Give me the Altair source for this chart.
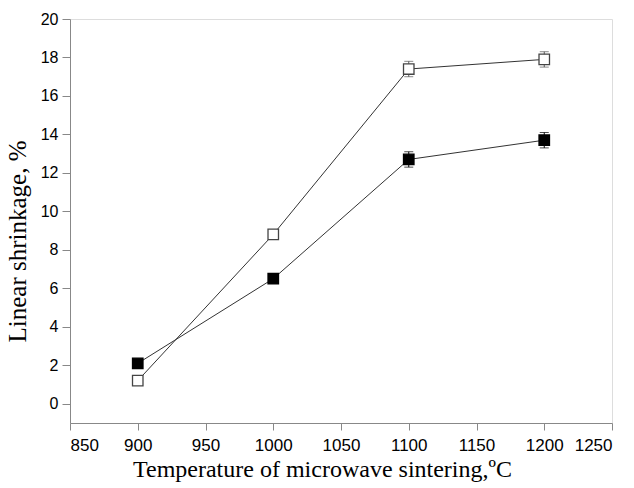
import altair as alt
import pandas as pd

temps = [900, 1000, 1100, 1200]
open_vals = [1.2, 8.8, 17.4, 17.9]
open_err = [0.2, 0.2, 0.4, 0.4]
filled_vals = [2.1, 6.5, 12.7, 13.7]
filled_err = [0.2, 0.2, 0.4, 0.4]

x_ticks = list(range(850, 1251, 25))
y_ticks = list(range(0, 21, 1))

rows = []
for t, v, e in zip(temps, open_vals, open_err):
    rows.append({"T": t, "v": v, "lo": v - e, "hi": v + e, "s": "open"})
for t, v, e in zip(temps, filled_vals, filled_err):
    rows.append({"T": t, "v": v, "lo": v - e, "hi": v + e, "s": "filled"})
df = pd.DataFrame(rows)

xs = alt.Scale(domain=[850, 1250], nice=False, zero=False)
ys = alt.Scale(domain=[-1, 20], nice=False, zero=False)

x_axis = alt.Axis(
    title="Temperature of microwave sintering,ºC",
    values=x_ticks,
    labelExpr="datum.value % 50 === 0 ? datum.label : ''",
    tickSize={"condition": {"test": "datum.value % 50 === 0", "value": 7}, "value": 4},
    format="d",
    grid=False,
    labelFontSize=17,
    labelPadding=7,
    titleFontSize=24,
    titlePadding=4,
    titleFont="Liberation Serif",
    titleFontWeight="normal",
    titleX=252,
)
y_axis = alt.Axis(
    title="Linear shrinkage, %",
    values=y_ticks,
    labelExpr="datum.value % 2 === 0 ? datum.label : ''",
    tickSize={"condition": {"test": "datum.value % 2 === 0", "value": 8}, "value": 4},
    grid=False,
    labelFontSize=16,
    labelPadding=4,
    titleFontSize=25,
    titlePadding=10,
    titleFont="Liberation Serif",
    titleFontWeight="normal",
    titleY=222,
)

base = alt.Chart(df)
sdom = ["open", "filled"]

lines = base.mark_line(color="#333333", strokeWidth=1).encode(
    x=alt.X("T:Q", scale=xs, axis=x_axis),
    y=alt.Y("v:Q", scale=ys, axis=y_axis),
    detail="s:N",
)
err = base.mark_rule(strokeWidth=1).encode(
    x="T:Q", y="lo:Q", y2="hi:Q",
    color=alt.Color("s:N", scale=alt.Scale(domain=sdom, range=["#555555", "#000000"]), legend=None),
)
cap_lo = base.mark_tick(thickness=1, size=9, orient="horizontal").encode(
    x="T:Q", y="lo:Q",
    color=alt.Color("s:N", scale=alt.Scale(domain=sdom, range=["#555555", "#000000"]), legend=None),
)
cap_hi = base.mark_tick(thickness=1, size=9, orient="horizontal").encode(
    x="T:Q", y="hi:Q",
    color=alt.Color("s:N", scale=alt.Scale(domain=sdom, range=["#555555", "#000000"]), legend=None),
)
pts = base.mark_square(size=110, strokeWidth=1.3, opacity=1).encode(
    x="T:Q", y="v:Q",
    fill=alt.Fill("s:N", scale=alt.Scale(domain=sdom, range=["#ffffff", "#000000"]), legend=None),
    stroke=alt.Stroke("s:N", scale=alt.Scale(domain=sdom, range=["#444444", "#000000"]), legend=None),
)

chart = alt.layer(lines, err, cap_lo, cap_hi, pts).properties(
    width=542,
    height=404,
    autosize=alt.AutoSizeParams(type="none"),
    padding={"left": 70, "top": 19, "right": 22, "bottom": 65},
).configure_view(
    stroke="black", strokeWidth=1
).configure_axis(
    domainColor="black", domainWidth=2, tickColor="black", tickWidth=1.5,
    labelColor="black", titleColor="black", labelFont="Liberation Sans",
).configure(background="white")

chart.save("out.html", embed_options={"renderer": "svg", "actions": False})
